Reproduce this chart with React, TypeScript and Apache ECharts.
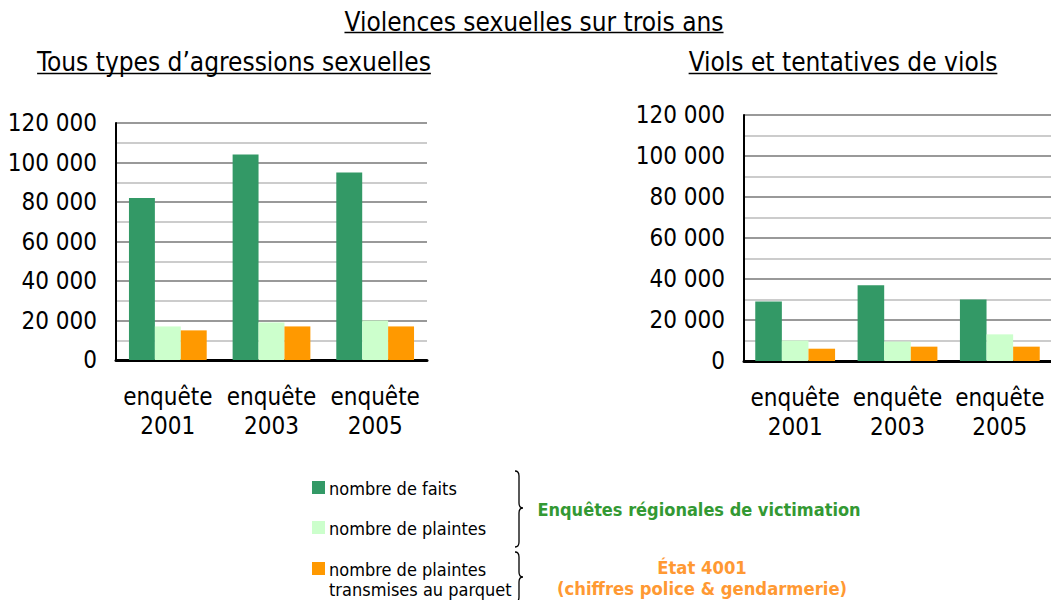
import React, { useEffect, useRef } from "react";
import * as echarts from "echarts";

const categories = ["enquête\n2001", "enquête\n2003", "enquête\n2005"];
// Tous types d'agressions sexuelles
const allFaits = [82000, 104000, 95000];
const allPlaintes = [17000, 19000, 20000];
const allParquet = [15000, 17000, 17000];
// Viols et tentatives de viols
const violFaits = [29000, 37000, 30000];
const violPlaintes = [10000, 9500, 13000];
const violParquet = [6000, 7000, 7000];

const yMin = 0;
const yMax = 120000;
const yInterval = 20000;

const seriesNames = [
  "nombre de faits",
  "nombre de plaintes",
  "nombre de plaintes\ntransmises au parquet",
];
const colors = ["#339966", "#ccffcc", "#ff9900"];

const mainTitle = "Violences sexuelles sur trois ans";
const leftTitle = "Tous types d’agressions sexuelles";
const rightTitle = "Viols et tentatives de viols";
const groupGreen = "Enquêtes régionales de victimation";
const groupOrange = "État 4001\n(chiffres police & gendarmerie)";

const FONT = "'DejaVu Sans Condensed', 'DejaVu Sans', sans-serif";
const TITLE_SIZE = 26;

function fmt(v: number) {
  return String(v).replace(/\B(?=(\d{3})+(?!\d))/g, " ");
}

function measure(text: string, size: number, weight = "normal") {
  const c = document.createElement("canvas").getContext("2d");
  if (!c) return text.length * size * 0.5;
  c.font = `${weight} ${size}px ${FONT}`;
  return c.measureText(text).width;
}

export default function App() {
  const ref = useRef<HTMLDivElement>(null);
  useEffect(() => {
    if (!ref.current) return;
    const chart = echarts.init(ref.current, undefined, { renderer: "svg" });

    const braceTop = "M0 0 Q4 0 4 5 L4 32 Q4 37 8 37 Q4 37 4 42 L4 71 Q4 76 0 76";
    const braceBot = "M0 0 Q4 0 4 5 L4 20 Q4 25 8 25 Q4 25 4 30 L4 45 Q4 50 0 50";
    echarts.graphic.registerShape("braceA", echarts.graphic.extendPath(braceTop, {}) as any);
    echarts.graphic.registerShape("braceB", echarts.graphic.extendPath(braceBot, {}) as any);

    const yAxisBase = (gridIndex: number) => ({
      type: "value",
      gridIndex,
      min: yMin,
      max: yMax,
      interval: yInterval,
      axisLine: { show: true, lineStyle: { color: "#000", width: 2 } },
      axisTick: { show: false },
      axisLabel: {
        formatter: (v: number) => fmt(v),
        fontSize: 24,
        color: "#000",
        fontFamily: FONT,
        margin: 19,
      },
      splitLine: { show: true, lineStyle: { color: "#999", width: 2 } },
      minorTick: { show: false, splitNumber: 2 },
      minorSplitLine: { show: true, lineStyle: { color: "#cccccc", width: 2 } },
    });

    const xAxisBase = (gridIndex: number) => ({
      type: "category",
      gridIndex,
      data: categories,
      axisLine: { show: true, lineStyle: { color: "#000", width: 3 } },
      axisTick: { show: false },
      axisLabel: {
        fontSize: 24,
        color: "#000",
        fontFamily: FONT,
        margin: 22,
        lineHeight: 29,
        interval: 0,
      },
    });

    const mk = (name: string, data: number[], idx: number, color: string, gap: string) => ({
      type: "bar",
      name,
      xAxisIndex: idx,
      yAxisIndex: idx,
      data,
      barGap: "0%",
      barCategoryGap: gap,
      itemStyle: { color },
    });

    const underline = (text: string, cx: number, y: number) => {
      const w = measure(text, TITLE_SIZE);
      return {
        type: "line",
        shape: { x1: cx - w / 2, y1: y, x2: cx + w / 2, y2: y },
        style: { stroke: "#000", lineWidth: 1.5 },
      };
    };

    const titleText = (text: string, cx: number, cy: number) => ({
      type: "text",
      x: cx,
      y: cy,
      style: {
        text,
        fontSize: TITLE_SIZE,
        fontFamily: FONT,
        fill: "#000",
        align: "center",
        verticalAlign: "middle",
      },
    });

    chart.setOption({
      animation: false,
      backgroundColor: "#fff",
      grid: [
        { left: 116, top: 123, width: 311, height: 237 },
        { left: 744, top: 115, width: 307, height: 246 },
      ],
      xAxis: [xAxisBase(0), xAxisBase(1)],
      yAxis: [yAxisBase(0), yAxisBase(1)],
      series: [
        mk(seriesNames[0], allFaits, 0, colors[0], "25%"),
        mk(seriesNames[1], allPlaintes, 0, colors[1], "25%"),
        mk(seriesNames[2], allParquet, 0, colors[2], "25%"),
        mk(seriesNames[0], violFaits, 1, colors[0], "22%"),
        mk(seriesNames[1], violPlaintes, 1, colors[1], "22%"),
        mk(seriesNames[2], violParquet, 1, colors[2], "22%"),
      ],
      graphic: [
        titleText(mainTitle, 534, 22),
        underline(mainTitle, 534, 32.5),
        titleText(leftTitle, 234, 62),
        underline(leftTitle, 234, 73.5),
        titleText(rightTitle, 843, 62),
        underline(rightTitle, 843, 73.5),
        // legend
        { type: "rect", shape: { x: 312, y: 481, width: 13, height: 13 }, style: { fill: colors[0] } },
        { type: "text", x: 329, y: 488, style: { text: seriesNames[0], fontSize: 18, fontFamily: FONT, fill: "#000", verticalAlign: "middle" } },
        { type: "rect", shape: { x: 312, y: 521, width: 13, height: 13 }, style: { fill: colors[1] } },
        { type: "text", x: 329, y: 528, style: { text: seriesNames[1], fontSize: 18, fontFamily: FONT, fill: "#000", verticalAlign: "middle" } },
        { type: "rect", shape: { x: 312, y: 562, width: 13, height: 13 }, style: { fill: colors[2] } },
        { type: "text", x: 329, y: 559, style: { text: seriesNames[2], fontSize: 18, lineHeight: 20, fontFamily: FONT, fill: "#000", verticalAlign: "top" } },
        // braces
        { type: "braceA", x: 515, y: 471, style: { stroke: "#000", lineWidth: 1.3, fill: null } },
        { type: "braceB", x: 515, y: 552, style: { stroke: "#000", lineWidth: 1.3, fill: null } },
        // group labels
        { type: "text", x: 699, y: 509, style: { text: groupGreen, fontSize: 18, fontWeight: "bold", fontFamily: FONT, fill: "#339933", align: "center", verticalAlign: "middle" } },
        { type: "text", x: 702, y: 557, style: { text: groupOrange, fontSize: 18.3, lineHeight: 21, fontWeight: "bold", fontFamily: FONT, fill: "#ff9933", align: "center", verticalAlign: "top" } },
      ],
    } as any);

    return () => chart.dispose();
  }, []);

  return (
    <div
      ref={ref}
      style={{ position: "absolute", left: 0, top: 0, width: 1051, height: 600 }}
    />
  );
}
